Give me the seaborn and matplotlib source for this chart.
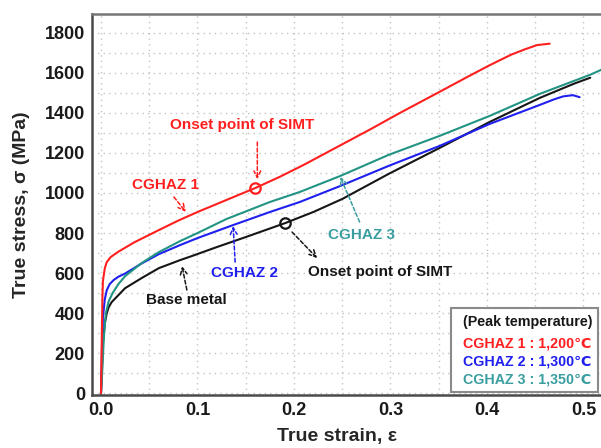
import matplotlib
matplotlib.use("Agg")
import matplotlib.pyplot as plt
import seaborn as sns
import pandas as pd
from matplotlib.patches import Rectangle

# True stress-strain curves
cghaz1_strain = [0.0, 0.0005, 0.001, 0.0015, 0.002, 0.004, 0.006, 0.010, 0.018, 0.035,
                 0.060, 0.080, 0.100, 0.130, 0.160, 0.185, 0.210, 0.245, 0.280, 0.310,
                 0.351, 0.380, 0.403, 0.425, 0.440, 0.452, 0.465]
cghaz1_stress = [0, 150, 330, 480, 560, 625, 655, 680, 707, 755,
                 815, 862, 905, 965, 1025, 1080, 1140, 1230, 1320, 1400,
                 1505, 1580, 1638, 1690, 1718, 1738, 1745]

cghaz2_strain = [0.0, 0.0005, 0.001, 0.002, 0.004, 0.006, 0.009, 0.013, 0.018, 0.025,
                 0.042, 0.060, 0.082, 0.100, 0.137, 0.175, 0.206, 0.248, 0.298, 0.351,
                 0.403, 0.455, 0.470, 0.479, 0.489, 0.496]
cghaz2_stress = [0, 100, 220, 380, 470, 515, 545, 565, 582, 598,
                 648, 695, 740, 775, 840, 905, 955, 1035, 1135, 1235,
                 1345, 1440, 1468, 1482, 1488, 1478]

cghaz3_strain = [0.0, 0.001, 0.002, 0.003, 0.005, 0.008, 0.012, 0.018, 0.025, 0.042,
                 0.060, 0.082, 0.100, 0.130, 0.175, 0.206, 0.248, 0.298, 0.351, 0.403,
                 0.455, 0.507, 0.530]
cghaz3_stress = [0, 80, 180, 280, 400, 460, 500, 545, 585, 650,
                 705, 760, 800, 870, 955, 1005, 1085, 1190, 1285, 1385,
                 1495, 1590, 1640]

base_strain = [0.0, 0.001, 0.002, 0.004, 0.006, 0.008, 0.011, 0.017, 0.025, 0.042,
               0.060, 0.082, 0.094, 0.120, 0.150, 0.191, 0.220, 0.250, 0.298, 0.351,
               0.403, 0.455, 0.490, 0.507]
base_stress = [0, 120, 250, 350, 400, 430, 455, 485, 525, 575,
               625, 665, 685, 730, 780, 850, 905, 970, 1095, 1225,
               1355, 1475, 1545, 1575]

# Onset of stress-induced martensitic transformation
onset_cghaz1 = (0.160, 1025)
onset_base = (0.191, 850)

x_ticks = [0.0, 0.1, 0.2, 0.3, 0.4, 0.5]
y_ticks = [0, 200, 400, 600, 800, 1000, 1200, 1400, 1600, 1800]
legend_lines = ["CGHAZ 1 : 1,200\u2103", "CGHAZ 2 : 1,300\u2103", "CGHAZ 3 : 1,350\u2103"]

RED = "#ff1f1f"
BLUE = "#1f1fef"
TEAL = "#229484"
TEAL_TXT = "#3a9ea0"
BLACK = "#161616"

sns.set_theme(style="white")
plt.rcParams["font.family"] = ["Liberation Sans", "DejaVu Sans"]
plt.rcParams["font.weight"] = "bold"

W, H = 601, 448
fig = plt.figure(figsize=(W / 100, H / 100), dpi=100)
ax = fig.add_axes([92 / W, 1 - 395 / H, (615 - 92) / W, (395 - 14) / H])

frames = []
for name, xs, ys in [("CGHAZ 1", cghaz1_strain, cghaz1_stress),
                     ("CGHAZ 2", cghaz2_strain, cghaz2_stress),
                     ("CGHAZ 3", cghaz3_strain, cghaz3_stress),
                     ("Base metal", base_strain, base_stress)]:
    frames.append(pd.DataFrame({"strain": xs, "stress": ys, "material": name}))
df = pd.concat(frames, ignore_index=True)

palette = {"CGHAZ 1": RED, "CGHAZ 2": BLUE, "CGHAZ 3": TEAL, "Base metal": BLACK}
order = ["Base metal", "CGHAZ 2", "CGHAZ 3", "CGHAZ 1"]
for name in order:
    sub = df[df["material"] == name]
    sns.lineplot(data=sub, x="strain", y="stress", color=palette[name], lw=1.5,
                 sort=False, estimator=None, ax=ax, legend=False)

# open circles at the SIMT onset points
ax.plot(*onset_cghaz1, marker="o", ms=7.5, mfc="none", mec=RED, mew=1.6, zorder=5)
ax.plot(*onset_base, marker="o", ms=7.5, mfc="none", mec=BLACK, mew=1.6, zorder=5)

ax.set_xlim(-0.0093, (615 - 101) / 965)
ax.set_ylim(-8, 1893)
ax.set_xticks(x_ticks)
ax.set_xticklabels([f"{v:.1f}" for v in x_ticks])
ax.set_yticks(y_ticks)
ax.set_yticklabels([str(v) for v in y_ticks])
ax.set_xticks([i * 0.05 for i in range(11)], minor=True)
ax.set_yticks(list(range(0, 1900, 100)), minor=True)
ax.grid(which="both", color="#c4c4c4", linestyle=(0, (1, 3)), lw=1.0)
ax.tick_params(axis="both", which="both", length=0, labelsize=13, colors="#1a1a1a")
ax.tick_params(axis="y", pad=5)
ax.tick_params(axis="x", pad=5)
for lab in ax.get_xticklabels() + ax.get_yticklabels():
    lab.set_fontweight("bold")

for side in ["left", "bottom", "top", "right"]:
    ax.spines[side].set_color("#4a4a4a")
    ax.spines[side].set_linewidth(1.8)
ax.spines["top"].set_color("#777777")

ax.set_xlabel("True strain, \u03b5", fontsize=14, fontweight="bold", va="center")
ax.set_ylabel("True stress, \u03c3 (MPa)", fontsize=14, fontweight="bold", va="center")
ax.xaxis.set_label_coords((337 - 92) / (615 - 92), -(436 - 395) / (395 - 14))
ax.yaxis.set_label_coords(-(92 - 22) / (615 - 92), 0.5)


def note(text, xy_text, xy_tip, color, tail):
    ax.text(*xy_text, text, color=color, fontsize=11, fontweight="bold",
            ha="center", va="center", zorder=6)
    ax.annotate("", xy=xy_tip, xytext=tail,
                arrowprops=dict(arrowstyle="->", color=color, lw=1.1,
                                linestyle=(0, (2.5, 1.5)), shrinkA=0, shrinkB=0))


note("Onset point of SIMT", (0.146, 1340), (0.162, 1068), RED, (0.162, 1254))
note("CGHAZ 1", (0.067, 1040), (0.088, 905), RED, (0.0756, 980))
note("CGHAZ 2", (0.149, 600), (0.137, 835), BLUE, (0.139, 655))
note("Base metal", (0.089, 466), (0.084, 635), BLACK, (0.089, 516))
note("CGHAZ 3", (0.270, 790), (0.248, 1080), TEAL_TXT, (0.268, 855))
note("Onset point of SIMT", (0.289, 605), (0.224, 675), BLACK, (0.198, 805))

# peak temperature box
box = Rectangle((451 / W, 1 - 392 / H), (598 - 451) / W, (392 - 308) / H,
                transform=fig.transFigure, facecolor="white", edgecolor="#8a8a8a",
                lw=1.5, zorder=10)
fig.patches.append(box)
fam = ["Liberation Sans", "DejaVu Sans"]
fig.text(463 / W, 1 - 322 / H, "(Peak temperature)", color=BLACK, fontsize=10.3,
         fontweight="bold", va="center", ha="left", zorder=11, family=fam)
for txt, col, py in zip(legend_lines, [RED, BLUE, TEAL_TXT], [343, 361, 379]):
    fig.text(463 / W, 1 - py / H, txt, color=col, fontsize=10.3, fontweight="bold",
             va="center", ha="left", zorder=11, family=fam)

fig.savefig("out.png", dpi=100)
